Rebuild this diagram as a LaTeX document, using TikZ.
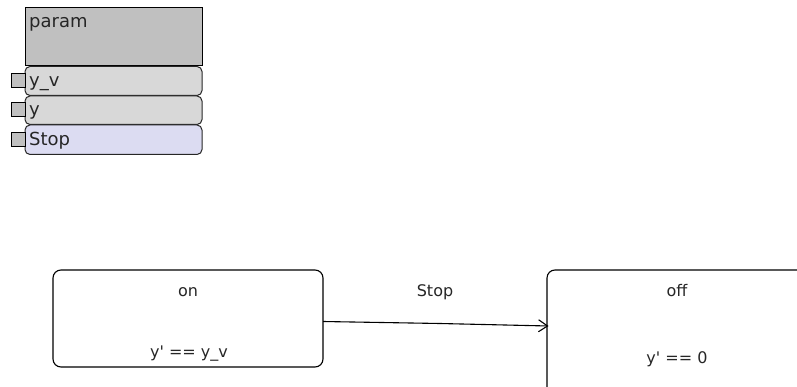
\documentclass[tikz,border=0pt]{standalone}
\usepackage{fontspec}
\setmainfont{DejaVu Sans}
\usetikzlibrary{arrows.meta}
\begin{document}
\begin{tikzpicture}[x=1pt,y=-1pt,
  blocklbl/.style={font=\fontsize{18}{20}\selectfont, text=black!85, inner sep=0pt, anchor=base west},
  lbl/.style={font=\fontsize{16}{18}\selectfont, text=black!85, inner sep=0pt, anchor=base},
  header/.style={draw=black, fill=hdrgray, line width=1pt},
  portrow/.style={draw=black!85, line width=1pt, rounded corners=5pt},
  portsq/.style={draw=black, fill=hdrgray, line width=1pt},
  state/.style={draw=black, line width=1.1pt, rounded corners=8pt},
  trans/.style={draw=black, line width=1.1pt, -{Straight Barb[length=9pt,width=12pt,line width=1.1pt]}}
]
\definecolor{hdrgray}{RGB}{192,192,192}
\definecolor{rowgray}{RGB}{216,216,216}
\definecolor{rowblue}{RGB}{220,220,242}
\useasboundingbox (0,0) rectangle (797,387);

% parameter block
\path[header] (25,7.5) rectangle (202,66);
\node[blocklbl] (param) at (29,28) {param};

\path[portrow, fill=rowgray] (25,66.5) rectangle (202,95.5);
\path[portsq] (11,74) rectangle (25,87.5);
\node[blocklbl] (yv) at (29,87) {y\_v};

\path[portrow, fill=rowgray] (25,96) rectangle (202,124.5);
\path[portsq] (11,103) rectangle (25,116.5);
\node[blocklbl] (y) at (29,116) {y};

\path[portrow, fill=rowblue] (25,125) rectangle (202,154.5);
\path[portsq] (11,132.5) rectangle (25,147);
\node[blocklbl] (stop) at (29,146) {Stop};

% states
\path[state] (53,270) rectangle (323,367);
\node[lbl] (on) at (188,296) {on};
\node[lbl] (oneq) at (189,357) {y\textquotesingle{} == y\_v};
\coordinate (onR) at (323,321.5);

\path[state] (547,392) -- (547,270) -- (808,270);
\node[lbl] (off) at (677,296) {off};
\node[lbl] (offeq) at (677,363) {y\textquotesingle{} == 0};
\coordinate (offL) at (548.5,326);

% transition
\node[lbl] (tlbl) at (435,296) {Stop};
\draw[trans] (onR) -- (440,323.5) -- (offL);
\end{tikzpicture}
\end{document}
